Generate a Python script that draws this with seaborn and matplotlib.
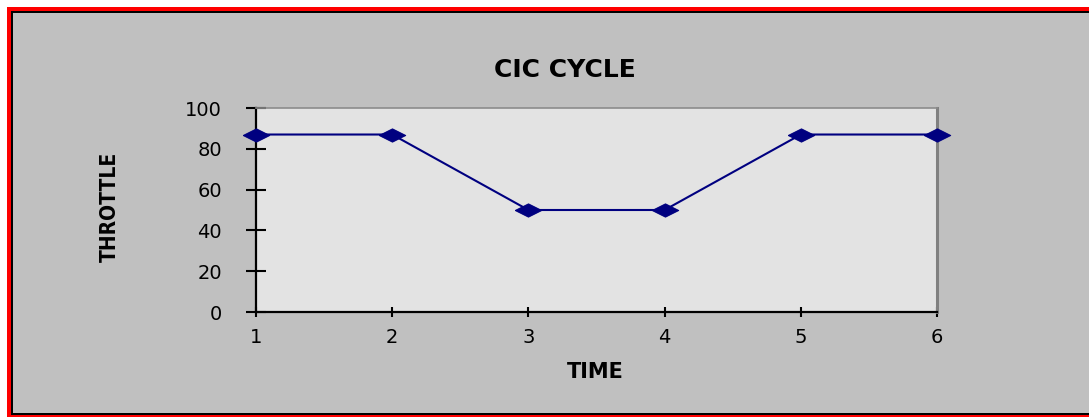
import matplotlib
matplotlib.use("Agg")
import matplotlib.pyplot as plt
from matplotlib.patches import Rectangle
import pandas as pd
import seaborn as sns

# chart values
time = [1, 2, 3, 4, 5, 6]
throttle = [87, 87, 50, 50, 87, 87]
y_ticks = [0, 20, 40, 60, 80, 100]

df = pd.DataFrame({"TIME": time, "THROTTLE": throttle})

sns.set_style("white")
plt.rcParams["font.family"] = ["DejaVu Sans"]
plt.rcParams["text.color"] = "black"

W, H = 1089, 417
fig = plt.figure(figsize=(W / 100, H / 100), dpi=100)
fig.patch.set_facecolor("white")


def px_rect(x0, y0, x1, y1, color):
    # rectangle given in pixels measured from the top-left corner
    fig.patches.append(Rectangle((x0 / W, 1 - y1 / H), (x1 - x0) / W, (y1 - y0) / H,
                                 transform=fig.transFigure, facecolor=color,
                                 edgecolor="none", zorder=-10))


# red frame, thin black line, grey chart area
px_rect(7, 7, W + 2, H + 2, "#ff0000")
px_rect(11, 11, W + 2, 415, "#000000")
px_rect(13, 13, W + 2, 413, "#c0c0c0")

ax = fig.add_axes([256 / W, 1 - 312 / H, (937 - 256) / W, (312 - 108) / H])
ax.set_facecolor("#e3e3e3")

# squashed diamond marker like the spreadsheet one
diamond = [(-1, 0), (0, 0.5), (1, 0), (0, -0.5), (-1, 0)]
sns.lineplot(data=df, x="TIME", y="THROTTLE", ax=ax, color="#000080",
             linewidth=1.5, marker=diamond, markersize=19,
             markeredgecolor="#000080", clip_on=False, zorder=5)

ax.set_xlim(1, 6)
ax.set_ylim(0, 100)
ax.set_xticks(time)
ax.set_yticks(y_ticks)
ax.set_xlabel("")
ax.set_ylabel("")

for side in ["left", "bottom"]:
    ax.spines[side].set_color("black")
    ax.spines[side].set_linewidth(1.6)
ax.spines["top"].set_color("#8c8c8c")
ax.spines["top"].set_linewidth(1.2)
ax.spines["right"].set_color("#808080")
ax.spines["right"].set_linewidth(2.2)
for s in ax.spines.values():
    s.set_visible(True)

ax.tick_params(axis="y", direction="inout", length=15, width=1.5, pad=17,
               labelsize=14, colors="black", left=True)
ax.tick_params(axis="x", direction="inout", length=7, width=1.5, pad=8,
               labelsize=14, colors="black", bottom=True)

# titles placed where the spreadsheet put them
fig.text(565 / W, 1 - 70 / H, "CIC CYCLE", ha="center", va="center",
         fontsize=18, fontweight="bold", color="black")
fig.text(595 / W, 1 - 372 / H, "TIME", ha="center", va="center",
         fontsize=15, fontweight="bold", color="black")
fig.text(110 / W, 1 - 207 / H, "THROTTLE", ha="center", va="center",
         rotation=90, fontsize=15, fontweight="bold", color="black",
         fontstretch="condensed")

fig.savefig("out.png", dpi=100, facecolor=fig.get_facecolor())
